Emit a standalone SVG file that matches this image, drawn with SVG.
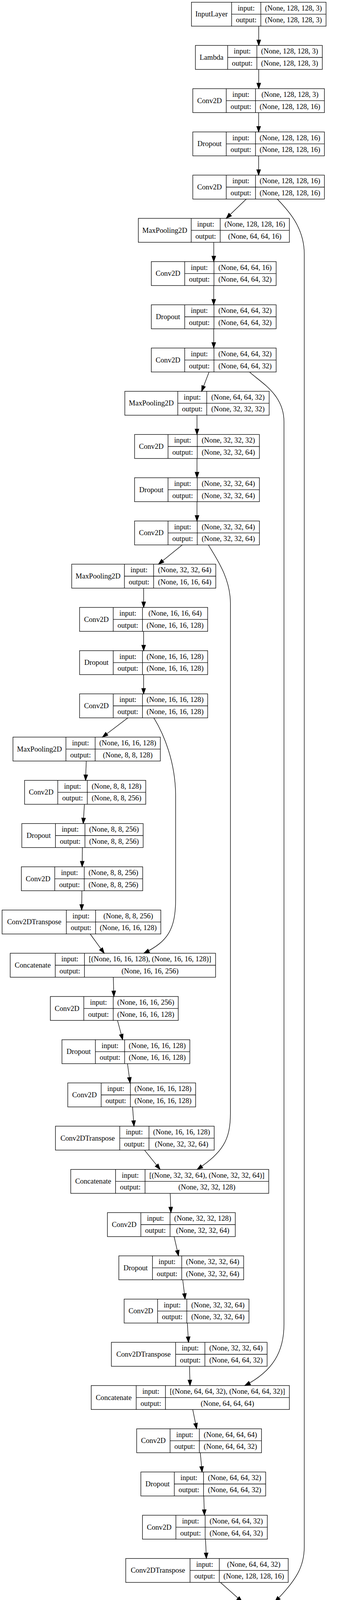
<svg xmlns="http://www.w3.org/2000/svg" width="928" height="4611" viewBox="0 0 928 4611">
<style>
.n rect{fill:#fff;stroke:#000;stroke-width:1.33}
.n path{fill:none;stroke:#000;stroke-width:1.33}
.n text{font-family:"Liberation Serif","Times New Roman",serif;font-size:18.67px;text-anchor:middle;fill:#000}
#edges path{fill:none;stroke:#000;stroke-width:1.33;marker-end:url(#arr)}
</style>
<defs>
<marker id="arr" markerUnits="userSpaceOnUse" markerWidth="14" markerHeight="10" refX="13.33" refY="4.67" orient="auto" viewBox="0 0 13.33 9.33" overflow="visible">
<path d="M0,0L13.33,4.67L0,9.33z" fill="#000" stroke="#000" stroke-width="1.33"/>
</marker>
</defs>
<rect x="0" y="0" width="928" height="4611" fill="#fff"/>

<g id="n1" class="n" transform="translate(0,5.67)"><rect x="490.8" y="0" width="345" height="61.33"/><path d="M593.7,0V61.33M668.6,0V61.33M593.7,30.67H835.8"/><text x="542.25" y="36.5">InputLayer</text><text x="631.15" y="21.1">input:</text><text x="631.15" y="51.8">output:</text><text x="752.2" y="21.1">(None, 128, 128, 3)</text><text x="752.2" y="51.8">(None, 128, 128, 3)</text></g>
<g id="n2" class="n" transform="translate(0,116.33)"><rect x="500.9" y="0" width="325.4" height="61.33"/><path d="M583.6,0V61.33M658.5,0V61.33M583.6,30.67H826.3"/><text x="542.25" y="36.5">Lambda</text><text x="621.05" y="21.1">input:</text><text x="621.05" y="51.8">output:</text><text x="742.4" y="21.1">(None, 128, 128, 3)</text><text x="742.4" y="51.8">(None, 128, 128, 3)</text></g>
<g id="n3" class="n" transform="translate(0,227)"><rect x="494.3" y="0" width="337.3" height="61.33"/><path d="M580,0V61.33M655,0V61.33M580,30.67H831.6"/><text x="537.15" y="36.5">Conv2D</text><text x="617.5" y="21.1">input:</text><text x="617.5" y="51.8">output:</text><text x="743.3" y="21.1">(None, 128, 128, 3)</text><text x="743.3" y="51.8">(None, 128, 128, 16)</text></g>
<g id="n4" class="n" transform="translate(0,337.67)"><rect x="494.3" y="0" width="337.3" height="61.33"/><path d="M580,0V61.33M655,0V61.33M580,30.67H831.6"/><text x="537.15" y="36.5">Dropout</text><text x="617.5" y="21.1">input:</text><text x="617.5" y="51.8">output:</text><text x="743.3" y="21.1">(None, 128, 128, 16)</text><text x="743.3" y="51.8">(None, 128, 128, 16)</text></g>
<g id="n5" class="n" transform="translate(0,448.33)"><rect x="494.3" y="0" width="337.3" height="61.33"/><path d="M580,0V61.33M655,0V61.33M580,30.67H831.6"/><text x="537.15" y="36.5">Conv2D</text><text x="617.5" y="21.1">input:</text><text x="617.5" y="51.8">output:</text><text x="743.3" y="21.1">(None, 128, 128, 16)</text><text x="743.3" y="51.8">(None, 128, 128, 16)</text></g>
<g id="n6" class="n" transform="translate(0,559)"><rect x="354.6" y="0" width="387.2" height="61.33"/><path d="M490.2,0V61.33M564.5,0V61.33M490.2,30.67H741.8"/><text x="422.4" y="36.5">MaxPooling2D</text><text x="527.35" y="21.1">input:</text><text x="527.35" y="51.8">output:</text><text x="653.15" y="21.1">(None, 128, 128, 16)</text><text x="653.15" y="51.8">(None, 64, 64, 16)</text></g>
<g id="n7" class="n" transform="translate(0,669.67)"><rect x="387.9" y="0" width="320" height="61.33"/><path d="M473.5,0V61.33M548.5,0V61.33M473.5,30.67H707.9"/><text x="430.7" y="36.5">Conv2D</text><text x="511" y="21.1">input:</text><text x="511" y="51.8">output:</text><text x="628.2" y="21.1">(None, 64, 64, 16)</text><text x="628.2" y="51.8">(None, 64, 64, 32)</text></g>
<g id="n8" class="n" transform="translate(0,780.33)"><rect x="387.9" y="0" width="320" height="61.33"/><path d="M473.5,0V61.33M548.5,0V61.33M473.5,30.67H707.9"/><text x="430.7" y="36.5">Dropout</text><text x="511" y="21.1">input:</text><text x="511" y="51.8">output:</text><text x="628.2" y="21.1">(None, 64, 64, 32)</text><text x="628.2" y="51.8">(None, 64, 64, 32)</text></g>
<g id="n9" class="n" transform="translate(0,891)"><rect x="387.9" y="0" width="320" height="61.33"/><path d="M473.5,0V61.33M548.5,0V61.33M473.5,30.67H707.9"/><text x="430.7" y="36.5">Conv2D</text><text x="511" y="21.1">input:</text><text x="511" y="51.8">output:</text><text x="628.2" y="21.1">(None, 64, 64, 32)</text><text x="628.2" y="51.8">(None, 64, 64, 32)</text></g>
<g id="n10" class="n" transform="translate(0,1001.67)"><rect x="320" y="0" width="370" height="61.33"/><path d="M455.7,0V61.33M530,0V61.33M455.7,30.67H690"/><text x="387.85" y="36.5">MaxPooling2D</text><text x="492.85" y="21.1">input:</text><text x="492.85" y="51.8">output:</text><text x="610" y="21.1">(None, 64, 64, 32)</text><text x="610" y="51.8">(None, 32, 32, 32)</text></g>
<g id="n11" class="n" transform="translate(0,1112.33)"><rect x="345" y="0" width="320" height="61.33"/><path d="M430.7,0V61.33M505.6,0V61.33M430.7,30.67H665"/><text x="387.85" y="36.5">Conv2D</text><text x="468.15" y="21.1">input:</text><text x="468.15" y="51.8">output:</text><text x="585.3" y="21.1">(None, 32, 32, 32)</text><text x="585.3" y="51.8">(None, 32, 32, 64)</text></g>
<g id="n12" class="n" transform="translate(0,1223)"><rect x="345" y="0" width="320" height="61.33"/><path d="M430.7,0V61.33M505.6,0V61.33M430.7,30.67H665"/><text x="387.85" y="36.5">Dropout</text><text x="468.15" y="21.1">input:</text><text x="468.15" y="51.8">output:</text><text x="585.3" y="21.1">(None, 32, 32, 64)</text><text x="585.3" y="51.8">(None, 32, 32, 64)</text></g>
<g id="n13" class="n" transform="translate(0,1333.67)"><rect x="345" y="0" width="320" height="61.33"/><path d="M430.7,0V61.33M505.6,0V61.33M430.7,30.67H665"/><text x="387.85" y="36.5">Conv2D</text><text x="468.15" y="21.1">input:</text><text x="468.15" y="51.8">output:</text><text x="585.3" y="21.1">(None, 32, 32, 64)</text><text x="585.3" y="51.8">(None, 32, 32, 64)</text></g>
<g id="n14" class="n" transform="translate(0,1444.33)"><rect x="183.8" y="0" width="369.4" height="61.33"/><path d="M318.9,0V61.33M393.8,0V61.33M318.9,30.67H553.2"/><text x="251.35" y="36.5">MaxPooling2D</text><text x="356.35" y="21.1">input:</text><text x="356.35" y="51.8">output:</text><text x="473.5" y="21.1">(None, 32, 32, 64)</text><text x="473.5" y="51.8">(None, 16, 16, 64)</text></g>
<g id="n15" class="n" transform="translate(0,1555)"><rect x="204" y="0" width="328.4" height="61.33"/><path d="M290.3,0V61.33M365.3,0V61.33M290.3,30.67H532.4"/><text x="247.15" y="36.5">Conv2D</text><text x="327.8" y="21.1">input:</text><text x="327.8" y="51.8">output:</text><text x="448.85" y="21.1">(None, 16, 16, 64)</text><text x="448.85" y="51.8">(None, 16, 16, 128)</text></g>
<g id="n16" class="n" transform="translate(0,1665.67)"><rect x="204" y="0" width="328.4" height="61.33"/><path d="M290.3,0V61.33M365.3,0V61.33M290.3,30.67H532.4"/><text x="247.15" y="36.5">Dropout</text><text x="327.8" y="21.1">input:</text><text x="327.8" y="51.8">output:</text><text x="448.85" y="21.1">(None, 16, 16, 128)</text><text x="448.85" y="51.8">(None, 16, 16, 128)</text></g>
<g id="n17" class="n" transform="translate(0,1776.33)"><rect x="204" y="0" width="328.4" height="61.33"/><path d="M290.3,0V61.33M365.3,0V61.33M290.3,30.67H532.4"/><text x="247.15" y="36.5">Conv2D</text><text x="327.8" y="21.1">input:</text><text x="327.8" y="51.8">output:</text><text x="448.85" y="21.1">(None, 16, 16, 128)</text><text x="448.85" y="51.8">(None, 16, 16, 128)</text></g>
<g id="n18" class="n" transform="translate(0,1887)"><rect x="33.3" y="0" width="377.7" height="61.33"/><path d="M169,0V61.33M243.9,0V61.33M169,30.67H411"/><text x="101.15" y="36.5">MaxPooling2D</text><text x="206.45" y="21.1">input:</text><text x="206.45" y="51.8">output:</text><text x="327.45" y="21.1">(None, 16, 16, 128)</text><text x="327.45" y="51.8">(None, 8, 8, 128)</text></g>
<g id="n19" class="n" transform="translate(0,1997.67)"><rect x="63" y="0" width="310.6" height="61.33"/><path d="M148.1,0V61.33M223.7,0V61.33M148.1,30.67H373.6"/><text x="105.55" y="36.5">Conv2D</text><text x="185.9" y="21.1">input:</text><text x="185.9" y="51.8">output:</text><text x="298.65" y="21.1">(None, 8, 8, 128)</text><text x="298.65" y="51.8">(None, 8, 8, 256)</text></g>
<g id="n20" class="n" transform="translate(0,2108.33)"><rect x="55.9" y="0" width="311.1" height="61.33"/><path d="M142.2,0V61.33M217.7,0V61.33M142.2,30.67H367"/><text x="99.05" y="36.5">Dropout</text><text x="179.95" y="21.1">input:</text><text x="179.95" y="51.8">output:</text><text x="292.35" y="21.1">(None, 8, 8, 256)</text><text x="292.35" y="51.8">(None, 8, 8, 256)</text></g>
<g id="n21" class="n" transform="translate(0,2219)"><rect x="54.7" y="0" width="311.1" height="61.33"/><path d="M140.4,0V61.33M215.9,0V61.33M140.4,30.67H365.8"/><text x="97.55" y="36.5">Conv2D</text><text x="178.15" y="21.1">input:</text><text x="178.15" y="51.8">output:</text><text x="290.85" y="21.1">(None, 8, 8, 256)</text><text x="290.85" y="51.8">(None, 8, 8, 256)</text></g>
<g id="n22" class="n" transform="translate(0,2329.67)"><rect x="5.4" y="0" width="406.9" height="61.33"/><path d="M170.1,0V61.33M245.1,0V61.33M170.1,30.67H412.3"/><text x="87.75" y="36.5">Conv2DTranspose</text><text x="207.6" y="21.1">input:</text><text x="207.6" y="51.8">output:</text><text x="328.7" y="21.1">(None, 8, 8, 256)</text><text x="328.7" y="51.8">(None, 16, 16, 128)</text></g>
<g id="n23" class="n" transform="translate(0,2440.33)"><rect x="26.2" y="0" width="526.4" height="61.33"/><path d="M141.6,0V61.33M216.5,0V61.33M141.6,30.67H552.6"/><text x="83.9" y="36.5">Concatenate</text><text x="179.05" y="21.1">input:</text><text x="179.05" y="51.8">output:</text><text x="384.55" y="21.1">[(None, 16, 16, 128), (None, 16, 16, 128)]</text><text x="384.55" y="51.8">(None, 16, 16, 256)</text></g>
<g id="n24" class="n" transform="translate(0,2551)"><rect x="129.1" y="0" width="327.8" height="61.33"/><path d="M214.8,0V61.33M290.3,0V61.33M214.8,30.67H456.9"/><text x="171.95" y="36.5">Conv2D</text><text x="252.55" y="21.1">input:</text><text x="252.55" y="51.8">output:</text><text x="373.6" y="21.1">(None, 16, 16, 256)</text><text x="373.6" y="51.8">(None, 16, 16, 128)</text></g>
<g id="n25" class="n" transform="translate(0,2661.67)"><rect x="158.8" y="0" width="327.8" height="61.33"/><path d="M244.5,0V61.33M319.5,0V61.33M244.5,30.67H486.6"/><text x="201.65" y="36.5">Dropout</text><text x="282" y="21.1">input:</text><text x="282" y="51.8">output:</text><text x="403.05" y="21.1">(None, 16, 16, 128)</text><text x="403.05" y="51.8">(None, 16, 16, 128)</text></g>
<g id="n26" class="n" transform="translate(0,2772.33)"><rect x="173.7" y="0" width="327.8" height="61.33"/><path d="M259.4,0V61.33M334.3,0V61.33M259.4,30.67H501.5"/><text x="216.55" y="36.5">Conv2D</text><text x="296.85" y="21.1">input:</text><text x="296.85" y="51.8">output:</text><text x="417.9" y="21.1">(None, 16, 16, 128)</text><text x="417.9" y="51.8">(None, 16, 16, 128)</text></g>
<g id="n27" class="n" transform="translate(0,2883)"><rect x="142.2" y="0" width="406.9" height="61.33"/><path d="M307,0V61.33M381.9,0V61.33M307,30.67H549.1"/><text x="224.6" y="36.5">Conv2DTranspose</text><text x="344.45" y="21.1">input:</text><text x="344.45" y="51.8">output:</text><text x="465.5" y="21.1">(None, 16, 16, 128)</text><text x="465.5" y="51.8">(None, 32, 32, 64)</text></g>
<g id="n28" class="n" transform="translate(0,2993.67)"><rect x="181.4" y="0" width="507.5" height="61.33"/><path d="M296.3,0V61.33M371.8,0V61.33M296.3,30.67H688.9"/><text x="238.85" y="36.5">Concatenate</text><text x="334.05" y="21.1">input:</text><text x="334.05" y="51.8">output:</text><text x="530.35" y="21.1">[(None, 32, 32, 64), (None, 32, 32, 64)]</text><text x="530.35" y="51.8">(None, 32, 32, 128)</text></g>
<g id="n29" class="n" transform="translate(0,3104.33)"><rect x="275.4" y="0" width="327.8" height="61.33"/><path d="M361.1,0V61.33M436,0V61.33M361.1,30.67H603.2"/><text x="318.25" y="36.5">Conv2D</text><text x="398.55" y="21.1">input:</text><text x="398.55" y="51.8">output:</text><text x="519.6" y="21.1">(None, 32, 32, 128)</text><text x="519.6" y="51.8">(None, 32, 32, 64)</text></g>
<g id="n30" class="n" transform="translate(0,3215)"><rect x="304.6" y="0" width="320" height="61.33"/><path d="M390.8,0V61.33M465.8,0V61.33M390.8,30.67H624.6"/><text x="347.7" y="36.5">Dropout</text><text x="428.3" y="21.1">input:</text><text x="428.3" y="51.8">output:</text><text x="545.2" y="21.1">(None, 32, 32, 64)</text><text x="545.2" y="51.8">(None, 32, 32, 64)</text></g>
<g id="n31" class="n" transform="translate(0,3325.67)"><rect x="318.3" y="0" width="320" height="61.33"/><path d="M404,0V61.33M478.9,0V61.33M404,30.67H638.3"/><text x="361.15" y="36.5">Conv2D</text><text x="441.45" y="21.1">input:</text><text x="441.45" y="51.8">output:</text><text x="558.6" y="21.1">(None, 32, 32, 64)</text><text x="558.6" y="51.8">(None, 32, 32, 64)</text></g>
<g id="n32" class="n" transform="translate(0,3436.33)"><rect x="285.5" y="0" width="399.2" height="61.33"/><path d="M450.3,0V61.33M525.3,0V61.33M450.3,30.67H684.7"/><text x="367.9" y="36.5">Conv2DTranspose</text><text x="487.8" y="21.1">input:</text><text x="487.8" y="51.8">output:</text><text x="605" y="21.1">(None, 32, 32, 64)</text><text x="605" y="51.8">(None, 64, 64, 32)</text></g>
<g id="n33" class="n" transform="translate(0,3547)"><rect x="233.8" y="0" width="508" height="61.33"/><path d="M349.2,0V61.33M424.2,0V61.33M349.2,30.67H741.8"/><text x="291.5" y="36.5">Concatenate</text><text x="386.7" y="21.1">input:</text><text x="386.7" y="51.8">output:</text><text x="583" y="21.1">[(None, 64, 64, 32), (None, 64, 64, 32)]</text><text x="583" y="51.8">(None, 64, 64, 64)</text></g>
<g id="n34" class="n" transform="translate(0,3657.67)"><rect x="350.4" y="0" width="320" height="61.33"/><path d="M436,0V61.33M511,0V61.33M436,30.67H670.4"/><text x="393.2" y="36.5">Conv2D</text><text x="473.5" y="21.1">input:</text><text x="473.5" y="51.8">output:</text><text x="590.7" y="21.1">(None, 64, 64, 64)</text><text x="590.7" y="51.8">(None, 64, 64, 32)</text></g>
<g id="n35" class="n" transform="translate(0,3768.33)"><rect x="361.1" y="0" width="320" height="61.33"/><path d="M446.8,0V61.33M521.7,0V61.33M446.8,30.67H681.1"/><text x="403.95" y="36.5">Dropout</text><text x="484.25" y="21.1">input:</text><text x="484.25" y="51.8">output:</text><text x="601.4" y="21.1">(None, 64, 64, 32)</text><text x="601.4" y="51.8">(None, 64, 64, 32)</text></g>
<g id="n36" class="n" transform="translate(0,3879)"><rect x="365.3" y="0" width="320" height="61.33"/><path d="M450.9,0V61.33M525.9,0V61.33M450.9,30.67H685.3"/><text x="408.1" y="36.5">Conv2D</text><text x="488.4" y="21.1">input:</text><text x="488.4" y="51.8">output:</text><text x="605.6" y="21.1">(None, 64, 64, 32)</text><text x="605.6" y="51.8">(None, 64, 64, 32)</text></g>
<g id="n37" class="n" transform="translate(0,3989.67)"><rect x="322.4" y="0" width="416.4" height="61.33"/><path d="M487.2,0V61.33M562.2,0V61.33M487.2,30.67H738.8"/><text x="404.8" y="36.5">Conv2DTranspose</text><text x="524.7" y="21.1">input:</text><text x="524.7" y="51.8">output:</text><text x="650.5" y="21.1">(None, 64, 64, 32)</text><text x="650.5" y="51.8">(None, 128, 128, 16)</text></g>
<g id="n38" class="n" transform="translate(0,4100.33)"><rect x="383.1" y="0" width="543.7" height="61.33"/><path d="M498.5,0V61.33M573.5,0V61.33M498.5,30.67H926.8"/><text x="440.8" y="36.5">Concatenate</text><text x="536" y="21.1">input:</text><text x="536" y="51.8">output:</text><text x="750.15" y="21.1">[(None, 128, 128, 16), (None, 128, 128, 16)]</text><text x="750.15" y="51.8">(None, 128, 128, 32)</text></g>
<g id="n39" class="n" transform="translate(0,4211)"><rect x="486.6" y="0" width="337.3" height="61.33"/><path d="M572.3,0V61.33M647.2,0V61.33M572.3,30.67H823.9"/><text x="529.45" y="36.5">Conv2D</text><text x="609.75" y="21.1">input:</text><text x="609.75" y="51.8">output:</text><text x="735.55" y="21.1">(None, 128, 128, 32)</text><text x="735.55" y="51.8">(None, 128, 128, 16)</text></g>
<g id="n40" class="n" transform="translate(0,4321.67)"><rect x="486.6" y="0" width="337.3" height="61.33"/><path d="M572.3,0V61.33M647.2,0V61.33M572.3,30.67H823.9"/><text x="529.45" y="36.5">Dropout</text><text x="609.75" y="21.1">input:</text><text x="609.75" y="51.8">output:</text><text x="735.55" y="21.1">(None, 128, 128, 16)</text><text x="735.55" y="51.8">(None, 128, 128, 16)</text></g>
<g id="n41" class="n" transform="translate(0,4432.33)"><rect x="486.6" y="0" width="337.3" height="61.33"/><path d="M572.3,0V61.33M647.2,0V61.33M572.3,30.67H823.9"/><text x="529.45" y="36.5">Conv2D</text><text x="609.75" y="21.1">input:</text><text x="609.75" y="51.8">output:</text><text x="735.55" y="21.1">(None, 128, 128, 16)</text><text x="735.55" y="51.8">(None, 128, 128, 16)</text></g>
<g id="n42" class="n" transform="translate(0,4543)"><rect x="486.6" y="0" width="337.3" height="61.33"/><path d="M572.3,0V61.33M647.2,0V61.33M572.3,30.67H823.9"/><text x="529.45" y="36.5">Conv2D</text><text x="609.75" y="21.1">input:</text><text x="609.75" y="51.8">output:</text><text x="735.55" y="21.1">(None, 128, 128, 16)</text><text x="735.55" y="51.8">(None, 128, 128, 1)</text></g>

<g id="edges">
<path d="M663.3,67V116.33"/>
<path d="M663.3,177.67V227"/>
<path d="M663,288.33V337.67"/>
<path d="M663,399V448.33"/>
<path d="M631.2,509.67L580,559"/>
<path d="M548,620.33V669.67"/>
<path d="M547.9,731V780.33"/>
<path d="M547.9,841.67V891"/>
<path d="M536,952.33L516.9,1001.67"/>
<path d="M505,1063V1112.33"/>
<path d="M505,1173.67V1223"/>
<path d="M505,1284.33V1333.67"/>
<path d="M467.2,1395L406.3,1444.33"/>
<path d="M368.3,1505.67V1555"/>
<path d="M368.2,1616.33V1665.67"/>
<path d="M368.2,1727V1776.33"/>
<path d="M327.7,1837.67L262.7,1887"/>
<path d="M221.1,1948.33L219.4,1997.67"/>
<path d="M216.4,2059L213.4,2108.33"/>
<path d="M211.2,2169.67L210.6,2219"/>
<path d="M209.9,2280.33L209.3,2329.67"/>
<path d="M231.2,2391L267.1,2440.33"/>
<path d="M290.4,2501.67L292,2551"/>
<path d="M301.2,2612.33L314.5,2661.67"/>
<path d="M326.8,2723L333.5,2772.33"/>
<path d="M339.8,2833.67L343.5,2883"/>
<path d="M370.5,2944.33L410.4,2993.67"/>
<path d="M436.3,3055L438.2,3104.33"/>
<path d="M446.3,3165.67L457.6,3215"/>
<path d="M468.4,3276.33L474.5,3325.67"/>
<path d="M480.2,3387L483.2,3436.33"/>
<path d="M485.9,3497.67L487.1,3547"/>
<path d="M494.1,3608.33L504.1,3657.67"/>
<path d="M513.4,3719L518.1,3768.33"/>
<path d="M522.3,3829.67L524.1,3879"/>
<path d="M526.8,3940.33L529.1,3989.67"/>
<path d="M565.1,4051L620.5,4100.33"/>
<path d="M655.2,4161.67V4211"/>
<path d="M655.3,4272.33V4321.67"/>
<path d="M655.3,4383V4432.33"/>
<path d="M655.3,4493.67V4543"/>
<path d="M710.9,509.67C735,535 780,580 780,650L780,3960C780,4010 760,4045 705,4100.33"/>
<path d="M639.5,952.33C670,980 728,1010 728,1080L728,3390C728,3460 700,3510 627.6,3547"/>
<path d="M534.2,1395C555,1430 590.7,1480 590.7,1545L590.7,2850C590.7,2920 570,2950 505.6,2993.67"/>
<path d="M394.4,1837.67C420,1880 450.3,1950 450.3,2040L450.3,2300C450.3,2380 430,2410 368.8,2440.33"/>
</g>
</svg>
